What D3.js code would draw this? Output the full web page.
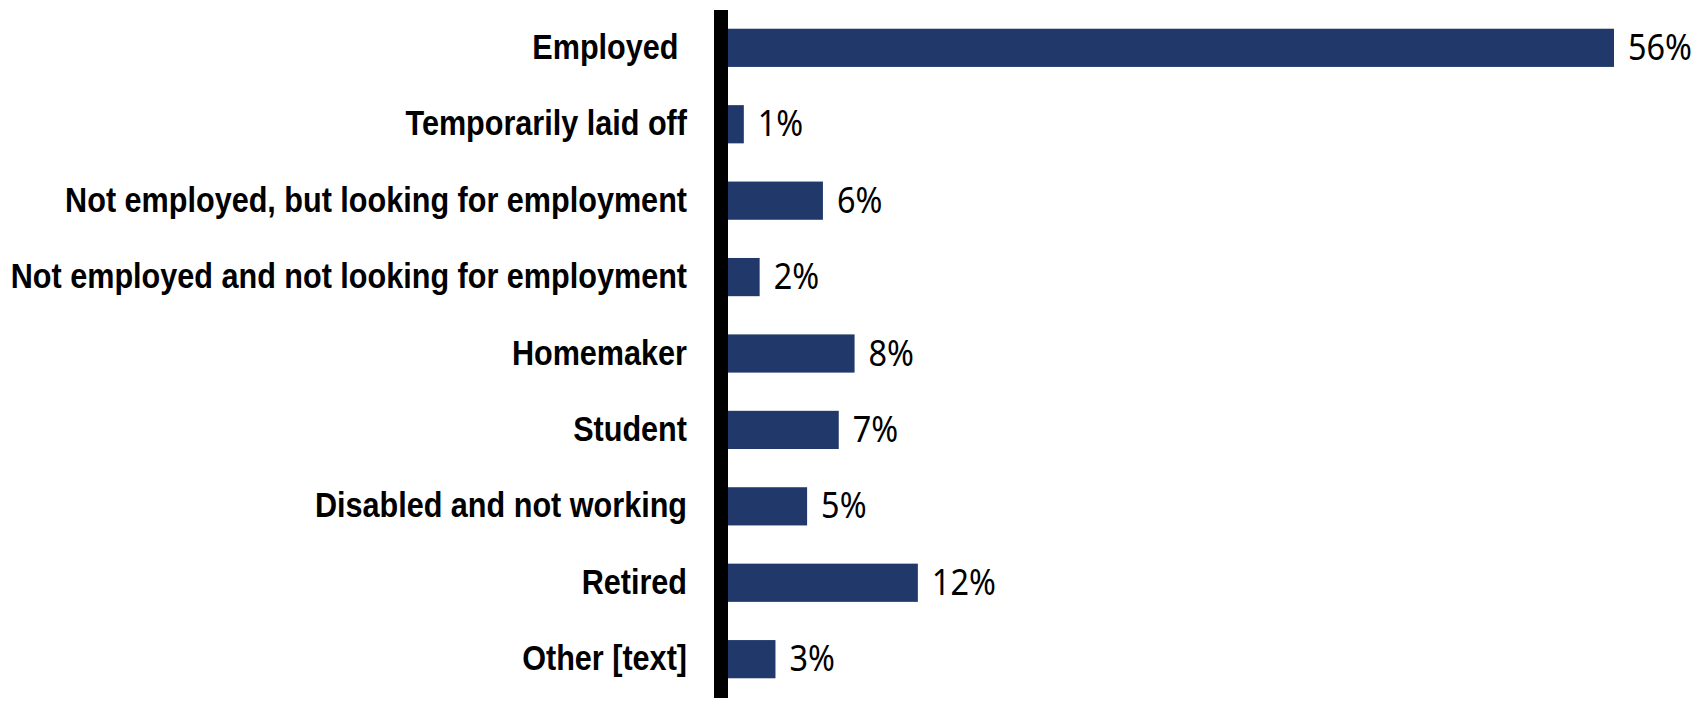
<!DOCTYPE html>
<html>
<head>
<meta charset="utf-8">
<script src="https://cdn.jsdelivr.net/npm/d3@7"></script>
<style>
  html, body { margin: 0; padding: 0; background: #fff; }
  svg text { fill: #000; }
  .cat { font-family: "Liberation Sans", Arial, sans-serif; font-weight: bold; white-space: pre; }
  .val { font-family: "Noto Sans", "Open Sans", sans-serif; font-weight: normal; }
</style>
</head>
<body>
<svg id="chart" width="1693" height="701"></svg>
<script>
const categories = [
  "Employed ",
  "Temporarily laid off",
  "Not employed, but looking for employment",
  "Not employed and not looking for employment",
  "Homemaker",
  "Student",
  "Disabled and not working",
  "Retired",
  "Other [text]"
];
const values = [56, 1, 6, 2, 8, 7, 5, 12, 3];
const valueLabels = ["56%", "1%", "6%", "2%", "8%", "7%", "5%", "12%", "3%"];

const svg = d3.select("#chart");
const barColor = "#21386a";
const catSqueeze = 0.85;  // horizontal squeeze giving a narrow face
const valSqueeze = 0.9;
const fontSize = 36;

const axisX = 721;      // centre of the thick baseline
const axisWidth = 14;
const x0 = axisX + axisWidth / 2;

const x = d3.scaleLinear().domain([0, 56]).range([x0, 1614]);
const y = d3.scaleBand()
  .domain(categories)
  .range([10, 697])
  .paddingInner(0.5)
  .paddingOuter(0.245);

const rows = categories.map((c, i) => ({ cat: c, v: values[i], label: valueLabels[i] }));

svg.append("g").selectAll("rect")
  .data(rows)
  .join("rect")
  .attr("x", x(0))
  .attr("y", d => y(d.cat))
  .attr("width", d => x(d.v) - x(0))
  .attr("height", y.bandwidth())
  .attr("fill", barColor);

// category labels, right-aligned against the baseline
svg.append("g").selectAll("text")
  .data(rows)
  .join("text")
  .attr("class", "cat")
  .attr("xml:space", "preserve")
  .attr("transform", d => `translate(687,${y(d.cat) + y.bandwidth() / 2 + 11}) scale(${catSqueeze},1)`)
  .attr("text-anchor", "end")
  .attr("font-size", fontSize)
  .text(d => d.cat);

// value labels at the bar ends
svg.append("g").selectAll("text")
  .data(rows)
  .join("text")
  .attr("class", "val")
  .attr("transform", d => `translate(${x(d.v) + 14},${y(d.cat) + y.bandwidth() / 2 + 12}) scale(${valSqueeze},1)`)
  .attr("font-size", fontSize)
  .text(d => d.label);

// thick vertical baseline
svg.append("line")
  .attr("x1", axisX).attr("x2", axisX)
  .attr("y1", 10).attr("y2", 698)
  .attr("stroke", "#000")
  .attr("stroke-width", axisWidth);
</script>
</body>
</html>
